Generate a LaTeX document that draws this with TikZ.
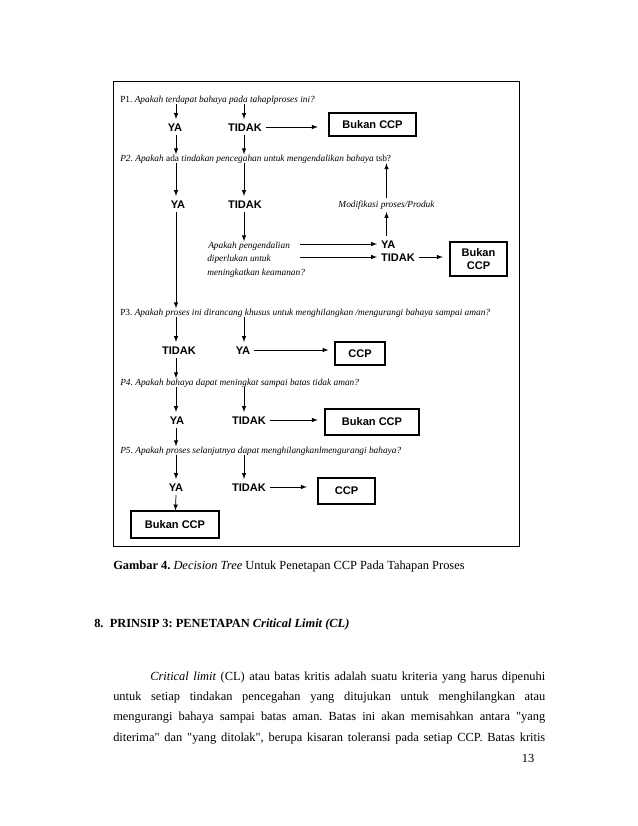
\documentclass[tikz,border=0pt]{standalone}
\usepackage{fontspec}
\setmainfont{Liberation Serif}[Ligatures=TeXOff]
\setsansfont{Liberation Sans}
\usetikzlibrary{arrows}
\usetikzlibrary{calc}
\tikzset{answer/.style={font=\sffamily\bfseries\fontsize{8.3}{10}\selectfont, inner sep=0pt, outer sep=3pt, text height=6pt, text depth=0pt}}
\tikzset{result/.style={draw, line width=.8pt, inner sep=0pt, align=center, font=\sffamily\bfseries\fontsize{8.3}{10}\selectfont}}
\tikzset{question/.style={anchor=base west, inner sep=0pt, font=\fontsize{7}{9}\selectfont}}
\tikzset{flow/.style={-latex, line width=.55pt}}
\tikzset{bodyline/.style={anchor=base west, inner sep=0pt, font=\fontsize{9.3}{11}\selectfont}}

\begin{document}
\frenchspacing
\begin{tikzpicture}[x=0.75pt,y=-0.75pt]
  \fill[white] (0,0) rectangle (638,826);
  \useasboundingbox (0,0) rectangle (638,826);
  \draw[line width=.6pt] (113,81) rectangle (519,546);

  % questions
  \node[question] (q1) at (120,102) {P1. \textit{Apakah terdapat bahaya pada tahaplproses ini?}};
  \node[question] (q2) at (120,161) {\textit{P2. Apakah} ada \textit{tindakan pencegahan untuk mengendalikan bahaya} tsb?};
  \node[question] (q3) at (120,315) {P3. \textit{Apakah proses ini dirancang khusus untuk menghilangkan /mengurangi bahaya sampai aman?}};
  \node[question] (q4) at (120,385) {\textit{P4. Apakah bahaya dapat meningkat sampai batas tidak aman?}};
  \node[question] (q5) at (120,453) {\textit{P5. Apakah proses selanjutnya dapat menghilangkanlmengurangi bahaya?}};
  \node[question] (apk1) at (208,248) {\textit{Apakah pengendalian}};
  \node[question] (apk2) at (207,261) {\textit{diperlukan untuk}};
  \node[question] (apk3) at (207,275) {\textit{meningkatkan keamanan?}};
  \node[font=\itshape\fontsize{7}{9}\selectfont, inner sep=0pt, outer sep=2pt] (modif) at (386.5,205) {Modifikasi proses/Produk};

  % answers
  \foreach \lab/\x/\y/\txt in {
    ya1/175/127/YA, tidak1/245/127/TIDAK,
    ya2/178/204/YA, tidak2/245/204/TIDAK,
    tidak4/179/350/TIDAK, ya4/243/350/YA,
    ya5/177/420/YA, tidak5/249/420/TIDAK,
    ya6/176/487/YA, tidak6/249/487/TIDAK%
  } {
    \node[answer] (\lab) at (\x,\y) {\txt};
  }
  \node[answer, anchor=west] (ya3) at (377,244) {YA};
  \node[answer, anchor=west] (tidak3) at (377,257) {TIDAK};

  % results
  \foreach \lab/\x/\y/\w/\h/\txt in {
    bukan1/372.5/124.5/87/23/Bukan CCP,
    ccp4/360/353.5/50/23/CCP,
    bukan5/372/422/94/26/Bukan CCP,
    ccp6/346.5/491/57/26/CCP,
    bukan6/175/524.5/88/27/Bukan CCP%
  } {
    \node[result, minimum width=\w*0.75pt, minimum height=\h*0.75pt] (\lab) at (\x,\y) {\txt};
  }
  \node[result, minimum width=57*0.75pt, minimum height=34*0.75pt] (bukan3) at (478.5,259) {Bukan\\CCP};

  % connectors
  \coordinate (colA) at (176,0);
  \coordinate (colB) at (244,0);
  \coordinate (split) at (300,0);
  \foreach \c/\a/\b in {
    colA/q1/ya1, colB/q1/tidak1,
    colA/q2/ya2, colB/q2/tidak2,
    colA/q3/tidak4, colB/q3/ya4,
    colA/q4/ya5, colB/q4/tidak5,
    colA/q5/ya6, colB/q5/tidak6%
  }{
    \draw[flow] (\c |- \a.south) -- (\c |- \b.north);
  }
  \foreach \c/\a/\b in {
    colA/ya1/q2, colB/tidak1/q2,
    colA/ya2/q3, colB/tidak2/apk1,
    colA/tidak4/q4, colA/ya5/q5%
  }{
    \draw[flow] (\c |- \a.south) -- (\c |- \b.north);
  }
  \draw[flow] (colA |- ya6.south) -- (bukan6);
  \draw[flow, shorten >=8pt] (tidak1) -- (tidak1 -| bukan1.west);
  \draw[flow, shorten >=4.5pt] (ya4) -- (ya4 -| ccp4.west);
  \draw[flow, shorten >=5pt] (tidak5) -- (tidak5 -| bukan5.west);
  \draw[flow, shorten >=8pt] (tidak6) -- (tidak6 -| ccp6.west);
  \draw[flow, shorten >=5pt] (tidak3) -- (tidak3 -| bukan3.west);
  \draw[flow] (split |- ya3) -- (ya3);
  \draw[flow] (split |- tidak3) -- (tidak3);
  \draw[flow] (ya3.north -| modif) -- (modif.south);
  \draw[flow] (modif.north) -- (modif.north |- q2.south);

  % page text
  \node[bodyline] (caption) at (113,569) {\textbf{Gambar 4.} \textit{Decision Tree} Untuk Penetapan CCP Pada Tahapan Proses};
  \node[bodyline] (heading) at (94,627) {\textbf{8.\ \ PRINSIP 3: PENETAPAN \textit{Critical Limit (CL)}}};
  \node[bodyline] (par1) at (150,680) {\makebox[296.25pt][s]{\textit{Critical limit} (CL) atau batas kritis adalah suatu kriteria yang harus dipenuhi}};
  \node[bodyline] (par2) at (113,700.3) {\makebox[324pt][s]{untuk setiap tindakan pencegahan yang ditujukan untuk menghilangkan atau}};
  \node[bodyline] (par3) at (113,720.6) {\makebox[324pt][s]{mengurangi bahaya sampai batas aman. Batas ini akan memisahkan antara "yang}};
  \node[bodyline] (par4) at (113,741) {\makebox[324pt][s]{diterima" dan "yang ditolak", berupa kisaran toleransi pada setiap CCP. Batas kritis}};
  \node[bodyline, anchor=base] (pagenum) at (528,762) {13};
\end{tikzpicture}
\end{document}
